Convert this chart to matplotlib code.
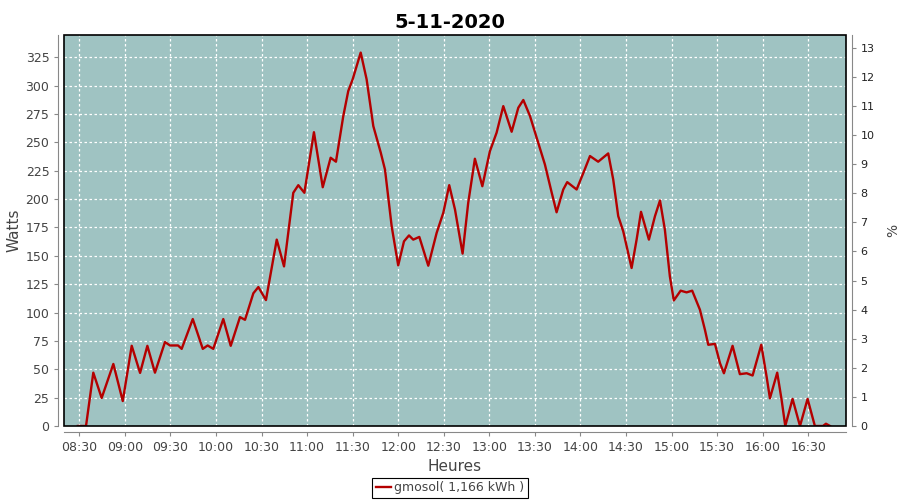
import numpy as np
import matplotlib.pyplot as plt
from matplotlib.patches import Rectangle

# minutes after 08:30, and power in watts
minutes = [-1.0, 4.4, 9.2, 14.7, 22.4, 28.6, 34.5, 40.0, 44.8, 49.8,
           56.4, 59.7, 65.0, 67.4, 74.7, 81.3, 84.5, 88.2, 94.8, 99.7,
           105.8, 109.1, 114.6, 117.9, 122.9, 130.0, 134.8, 140.9, 144.2, 148.2,
           154.5, 160.3, 165.5, 169.0, 173.8, 177.1, 180.0, 185.3, 189.2, 193.6,
           198.5, 201.3, 205.7, 210.0, 213.8, 217.1, 219.9, 223.9, 229.8, 235.3,
           239.7, 243.6, 247.4, 252.4, 256.1, 260.5, 265.4, 270.4, 274.8, 279.2,
           284.7, 289.1, 292.4, 296.8, 302.2, 306.6, 311.1, 314.3, 318.7, 321.3,
           327.5, 331.9, 336.3, 341.7, 348.3, 351.6, 354.9, 358.2, 363.7, 367.0,
           369.9, 375.1, 379.1, 382.4, 385.6, 388.9, 391.5, 396.0, 399.9, 403.6,
           408.7, 412.0, 414.2, 418.6, 421.9, 424.5, 430.2, 435.0, 439.5, 443.4,
           449.1, 452.6, 454.8, 459.6, 462.5, 464.9, 469.7, 474.6, 479.6, 484.4,
           489.7, 491.7, 494.4]
watts = [0, 0, 47, 24.7, 54.7, 22, 70.7, 46.8, 70.7, 47,
         74, 71, 71, 68, 94.3, 68, 71, 68, 94.3, 70.7,
         96, 93.6, 117, 122.5, 111, 164.3, 140.7, 205.6, 212.3, 205.6,
         259, 210.5, 236.5, 233, 273, 295.3, 305.6, 329.2, 305.6, 264.4,
         241, 226, 176, 141.6, 162.8, 168, 164.3, 166.7, 141.3, 170.2,
         188, 212.3, 190.8, 152, 196.7, 235.6, 211.4, 242.3, 258.6, 282,
         259.4, 280.6, 287.4, 273.2, 249.7, 230.6, 205.6, 188.4, 208.5, 215,
         208.5, 223, 238, 233, 240.3, 217.3, 185, 171.6, 139.3, 164.3,
         188.8, 164.3, 185, 198.8, 173.2, 132, 110.7, 119.3, 117.8, 119.3,
         102.5, 84.8, 71.6, 72.4, 55.4, 46.5, 70.7, 45.7, 46.5, 44.5,
         71.6, 43.6, 24.4, 47, 23, 0, 23.9, 0, 23.9, 0,
         0, 2, 0]

tick_labels = ["08:30", "09:00", "09:30", "10:00", "10:30", "11:00", "11:30", "12:00",
               "12:30", "13:00", "13:30", "14:00", "14:30", "15:00", "15:30", "16:00", "16:30"]
title = "5-11-2020"
legend_label = "gmosol( 1,166 kWh )"

bg = "#9fc3c2"
red = "#b40000"
grey = "#444444"
axis_grey = "#888888"

fig = plt.figure(figsize=(9, 5), dpi=100)
ax = fig.add_axes([64/900, 1-426/500, (846-64)/900, (426-35)/500])
ax.set_facecolor(bg)

t = np.array(minutes)
ax.plot(t, watts, color=red, linewidth=1.7, label=legend_label,
        solid_joinstyle="round", zorder=4)

ax.set_xlim(-10.1, 504.9)
ax.set_ylim(0, 344.7)
ax.set_xticks(np.arange(len(tick_labels)) * 30)
ax.set_xticklabels(tick_labels)
ax.set_yticks(np.arange(0, 326, 25))

ax.set_axisbelow(True)
ax.grid(True, color="white", linestyle=(0, (2, 2)), linewidth=0.9)

for s in ["left", "bottom"]:
    ax.spines[s].set_position(("outward", 4))
    ax.spines[s].set_color(axis_grey)
ax.spines["top"].set_visible(False)
ax.spines["right"].set_visible(False)
ax.add_patch(Rectangle((0, 0), 1, 1, transform=ax.transAxes, fill=False,
                       edgecolor="black", linewidth=1.2, zorder=5, clip_on=False))

ax.tick_params(axis="both", length=3, width=0.8, color=axis_grey, labelcolor=grey, labelsize=9)
ax.set_ylabel("Watts", fontsize=11, color=grey, labelpad=3)
ax.set_xlabel("Heures", fontsize=11, color=grey, labelpad=4)

ax2 = ax.twinx()
ax2.set_ylim(0, 13.44)
ax2.set_yticks(range(0, 14))
for s in ["left", "bottom", "top"]:
    ax2.spines[s].set_visible(False)
ax2.spines["right"].set_position(("outward", 4))
ax2.spines["right"].set_color(axis_grey)
ax2.tick_params(axis="y", length=3, width=0.8, color=axis_grey, labelcolor="#222222", labelsize=8)
ax2.set_ylabel("%", fontsize=10, color=grey, labelpad=8)

fig.suptitle(title, x=0.5, y=0.975, fontsize=14, fontweight="bold")

leg = fig.legend(loc="center", bbox_to_anchor=(0.5, 1-488/500), ncol=1, fancybox=False,
                 framealpha=1, edgecolor="black", fontsize=9, handlelength=1.2,
                 handletextpad=0.3, borderpad=0.3)
leg.get_frame().set_linewidth(0.8)
for txt in leg.get_texts():
    txt.set_color(grey)

plt.savefig("out.png", dpi=100)
